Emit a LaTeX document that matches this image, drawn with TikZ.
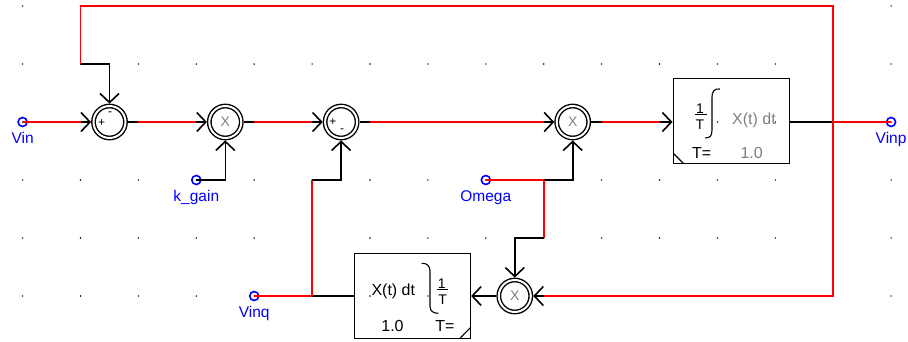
\documentclass[tikz,border=0pt]{standalone}
\usepackage{fontspec}
\setmainfont{Liberation Sans}
\usetikzlibrary{arrows.meta,positioning}

\tikzset{
  wire/.style={line width=1.6pt, black},
  rwire/.style={line width=1.8pt, red},
  port/.style={circle, draw=blue, line width=1.6pt, minimum size=9pt, inner sep=0pt},
  plabel/.style={text=blue, font=\fontsize{15.5}{17}\selectfont, inner sep=0pt},
  ring/.style={circle, draw, line width=1.4pt, double, double distance=2pt,
    minimum size=32pt, inner sep=0pt, outer sep=2.4pt,
    font=\fontsize{14}{16}\selectfont, text=gray},
  sign/.style={font=\fontsize{12}{13}\selectfont, inner sep=0pt},
  intbox/.style={draw, line width=1.6pt, minimum width=116pt, minimum height=85pt, inner sep=0pt},
  btext/.style={font=\fontsize{16}{18}\selectfont, inner sep=0pt},
  ftext/.style={font=\fontsize{14}{16}\selectfont, inner sep=0pt},
}

\begin{document}
\begin{tikzpicture}[x=1pt, y=-1pt, >={Straight Barb[length=9pt,width=19pt]}]
  \useasboundingbox (0,0) rectangle (908,341);

  % grid
  \foreach \i in {0,...,15}
    \foreach \j in {0,...,5}
      \fill ({22.6+57.9*\i},{6+58*\j}) circle (0.8);

  % ports
  \node[port] (vin) at (22.6,122) {};
  \node[plabel, below=5pt of vin] (vinlbl) {Vin};
  \node[port] (kgain) at (196.3,180) {};
  \node[plabel, below=5pt of kgain] (kgainlbl) {k\_gain};
  \node[port] (omega) at (485.8,180) {};
  \node[plabel, below=5pt of omega] (omegalbl) {Omega};
  \node[port] (vinp) at (891.1,122) {};
  \node[plabel, below=5pt of vinp] (vinplbl) {Vinp};
  \node[port] (vinq) at (254.2,296) {};
  \node[plabel, below=5pt of vinq] (vinqlbl) {Vinq};

  % summers and multipliers
  \node[ring] (s1) at (109.5,122) {};
  \node[sign] (s1p) at (101.7,122.7) {+};
  \node[sign] (s1m) at (110,114) {-};
  \node[ring] (m1) at (225.3,122) {X};
  \node[ring] (s2) at (341.1,122) {};
  \node[sign] (s2p) at (333,121.7) {+};
  \node[sign] (s2m) at (342,130.7) {-};
  \node[ring] (m2) at (572.7,122) {X};
  \node[ring] (m3) at (514.8,296) {X};

  % integrator 1
  \node[intbox] (int1) at (731.3,120.8) {};
  \node[ftext] (int1n) at (700,108.3) {1};
  \draw[line width=1pt] (695,114) -- (706.7,114);
  \node[ftext] (int1d) at (700,125) {T};
  \draw[line width=1.1pt] (720,89) .. controls (714,88) and (712,92) .. (712,97)
    -- (712,130) .. controls (712,136) and (710,138) .. (705,138);
  \node[btext, text=gray] (int1x) at (754,120) {X(t) dt};
  \node[btext] (int1t) at (701.7,153.3) {T=};
  \node[btext, text=gray] (int1v) at (751.7,153.3) {1.0};
  \draw[line width=1.1pt] (673.3,153.3) -- (683.3,163.3);

  % integrator 2
  \node[intbox] (int2) at (412.3,296) {};
  \node[btext] (int2x) at (393.3,291.7) {X(t) dt};
  \draw[line width=1.1pt] (421.7,263.3) .. controls (427,263) and (430,266) .. (430,271)
    -- (430,306) .. controls (430,311) and (433,313.3) .. (438.3,313.3);
  \node[ftext] (int2n) at (441.7,283.3) {1};
  \draw[line width=1pt] (436.7,289) -- (448.3,289);
  \node[ftext] (int2d) at (442.7,300) {T};
  \node[btext] (int2v) at (392.5,326) {1.0};
  \node[btext] (int2t) at (445,326) {T=};
  \draw[line width=1.1pt] (460,338.3) -- (470.7,327.3);

  % forward path
  \coordinate (a1) at (80.5,122);
  \coordinate (a2) at (138.4,122);
  \coordinate (a3) at (196.3,122);
  \coordinate (a4) at (254.2,122);
  \coordinate (a5) at (312.1,122);
  \coordinate (a6) at (370,122);
  \coordinate (a9) at (543.7,122);
  \coordinate (a10) at (601.6,122);
  \coordinate (a11) at (659.5,122);
  \coordinate (a14) at (833.2,122);
  \draw[rwire] (vin.center) -- (a1);
  \draw[wire,->] (a1) -- (s1);
  \draw[wire] (s1) -- (a2);
  \draw[rwire] (a2) -- (a3);
  \draw[wire,->] (a3) -- (m1);
  \draw[wire] (m1) -- (a4);
  \draw[rwire] (a4) -- (a5);
  \draw[wire,->] (a5) -- (s2);
  \draw[wire] (s2) -- (a6);
  \draw[rwire] (a6) -- (a9);
  \draw[wire,->] (a9) -- (m2);
  \draw[wire] (m2) -- (a10);
  \draw[rwire] (a10) -- (a11);
  \draw[wire,->] (a11) -- (a11 -| int1.west);
  \draw[wire] (a14 -| int1.east) -- (a14);
  \draw[rwire] (a14) -- (vinp.center);

  % feedback loops
  \coordinate (t1) at (80.5,64);
  \coordinate (t1u) at (80.5,6);
  \coordinate (t14) at (833.2,6);
  \coordinate (b14) at (833.2,296);
  \coordinate (b9) at (543.7,296);
  \draw[rwire] (t1) -- (t1u) -- (t14) -- (b14) -- (b9);
  \draw[wire,->] (t1) -| (s1);
  \draw[wire,->] (b9) -- (m3);
  \draw[wire,->] (m3) -- (m3 -| int2.east);

  \coordinate (q5) at (312.1,296);
  \coordinate (q5u) at (312.1,180);
  \draw[wire] (q5 -| int2.west) -- (q5);
  \draw[rwire] (q5) -- (vinq.center);
  \draw[rwire] (q5) -- (q5u);
  \draw[wire,->] (q5u) -| (s2);

  % gain inputs
  \draw[wire,->] (kgain.center) -| (m1);
  \coordinate (o9) at (543.7,180);
  \coordinate (o9d) at (543.7,238);
  \draw[rwire] (omega.center) -- (o9);
  \draw[wire,->] (o9) -| (m2);
  \draw[rwire] (o9) -- (o9d);
  \draw[wire,->] (o9d) -| (m3);
\end{tikzpicture}
\end{document}
